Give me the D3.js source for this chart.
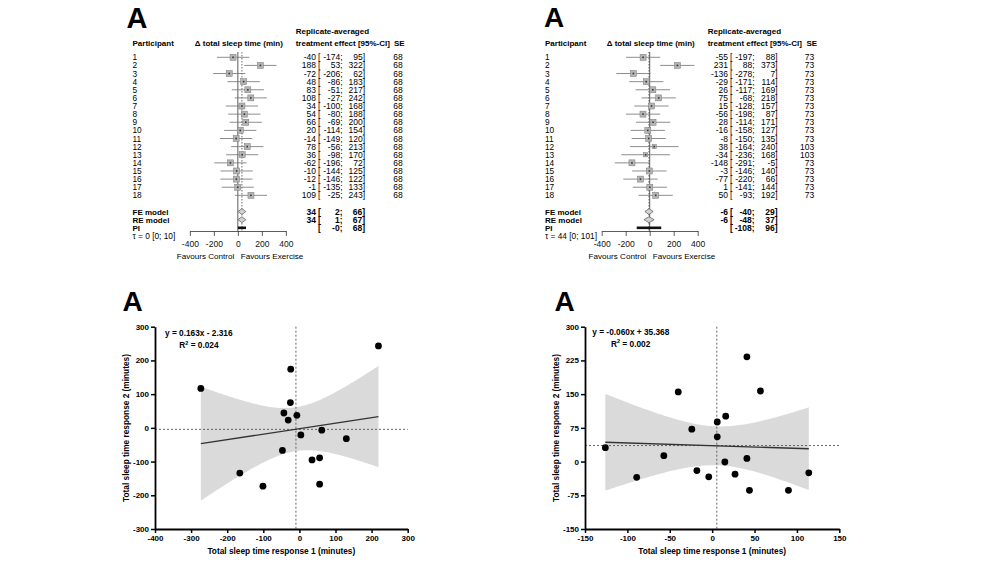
<!DOCTYPE html>
<html><head><meta charset="utf-8">
<script src="https://cdn.jsdelivr.net/npm/d3@7"></script>
<style>
body{margin:0;background:#fff}
svg{display:block;font-family:"Liberation Sans",Arial,Helvetica,sans-serif}
</style>
</head><body>
<svg id="c" width="1000" height="563"></svg>
<script>
// ---------------- DATA ----------------
const participants = ["1","2","3","4","5","6","7","8","9","10","11","12","13","14","15","16","17","18"];

// Left forest plot
const leftEst = [-40,188,-72,48,83,108,34,54,66,20,-14,78,36,-62,-10,-12,-1,109];
const leftLo  = [-174,53,-206,-86,-51,-27,-100,-80,-69,-114,-149,-56,-98,-196,-144,-146,-135,-25];
const leftHi  = [95,322,62,183,217,242,168,188,200,154,120,213,170,72,125,122,133,243];
const leftSE  = [68,68,68,68,68,68,68,68,68,68,68,68,68,68,68,68,68,68];
const leftModelEst = [34,34,null];
const leftModelLo  = [2,1,-0];
const leftModelHi  = [66,67,68];
const leftTau = "\u03C4 = 0 [0; 10]";

// Right forest plot
const rightEst = [-55,231,-136,-29,26,75,15,-56,28,-16,-8,38,-34,-148,-3,-77,1,50];
const rightLo  = [-197,88,-278,-171,-117,-68,-128,-198,-114,-158,-150,-164,-236,-291,-146,-220,-141,-93];
const rightHi  = [88,373,7,114,169,218,157,87,171,127,135,240,168,-5,140,66,144,192];
const rightSE  = [73,73,73,73,73,73,73,73,73,73,73,103,103,73,73,73,73,73];
const rightModelEst = [-6,-6,null];
const rightModelLo  = [-40,-48,-108];
const rightModelHi  = [29,37,96];
const rightTau = "\u03C4 = 44 [0; 101]";

const modelLabels = ["FE model","RE model","PI"];
const forestTicks = [-400,-200,0,200,400];

// Left scatter (response 1 vs response 2)
const leftX = [-273,-24,219,-25,-43,-7,-31,4,62,130,-47,35,56,-165,-101,56];
const leftY = [117,174,243,75,44,37,23,-21,-7,-32,-67,-95,-89,-134,-173,-167];
const leftFit = {slope:0.163, intercept:-2.316, t:2.145};
const leftEq = "y = 0.163x - 2.316", leftR2 = "0.024";
const leftXTicks = [-400,-300,-200,-100,0,100,200,300];
const leftYTicks = [-300,-200,-100,0,100,200,300];

// Right scatter
const rightX = [-40,41,57,16,6,-24,6,-126,-57,15,41,-18,-89,-4,27,114,44,90];
const rightY = [155,233,157,101,88,72,55,31,13,-1,7,-20,-35,-34,-28,-25,-64,-64];
const rightFit = {slope:-0.060, intercept:35.368, t:2.120};
const rightEq = "y = -0.060x + 35.368", rightR2 = "0.002";
const rightXTicks = [-150,-100,-50,0,50,100,150];
const rightYTicks = [-150,-75,0,75,150,225,300];

// ---------------- DRAW ----------------
const svg = d3.select("#c");
const fmt = v => (Object.is(v,-0) ? "-0" : String(v));

function panelLetter(x, y, size){
  svg.append("text").attr("x",x).attr("y",y).attr("font-size",size)
    .attr("font-weight","bold").attr("fill","#000").text("A");
}

function forest(o){
  const g = svg.append("g");
  const x = d3.scaleLinear().domain([-400,400]).range([o.x0-48, o.x0+48]);
  const y = d3.scaleLinear().domain([1,23]).range([57.3, 57.3+22*8.12]);
  const fs = 8, fv = 8.5;
  const hdr = (t,xx,yy,anchor)=>g.append("text").attr("x",xx).attr("y",yy)
      .attr("font-size",8).attr("font-weight","bold").attr("text-anchor",anchor||"start").text(t);
  hdr("Participant", o.px, 45.5);
  hdr("\u0394 total sleep time (min)", o.x0+1, 45.5, "middle");
  hdr("Replicate-averaged", o.tx, 33.5);
  hdr("treatment effect [95%-CI]", o.tx, 45.5);
  hdr("SE", o.seHdr, 45.5);

  g.append("line").attr("x1",x(0)).attr("x2",x(0)).attr("y1",52).attr("y2",231)
    .attr("stroke","#333").attr("stroke-width",0.8);
  g.append("line").attr("x1",x(o.mEst[0])).attr("x2",x(o.mEst[0])).attr("y1",52).attr("y2",231)
    .attr("stroke","#444").attr("stroke-width",0.8).attr("stroke-dasharray","1.5,1.5");

  const minSE = d3.min(o.se);
  const rows = participants.map((p,i)=>({p, i:i+1, est:o.est[i], lo:o.lo[i], hi:o.hi[i], se:o.se[i]}));
  rows.forEach(r=>{
    const cy = y(r.i);
    g.append("line").attr("x1",x(r.lo)).attr("x2",x(r.hi)).attr("y1",cy).attr("y2",cy)
      .attr("stroke","#707070").attr("stroke-width",0.8);
    const s = 6*minSE/r.se;
    g.append("rect").attr("x",x(r.est)-s/2).attr("y",cy-s/2).attr("width",s).attr("height",s)
      .attr("fill","#b4b4b4").attr("stroke","#7a7a7a").attr("stroke-width",0.5);
    g.append("rect").attr("x",x(r.est)-0.8).attr("y",cy-0.8).attr("width",1.6).attr("height",1.6)
      .attr("fill","#333");
    const b = cy+3;
    g.append("text").attr("x",o.px).attr("y",b).attr("font-size",fs+0.3).text(r.p);
    g.append("text").attr("x",o.cEst).attr("y",b).attr("font-size",fv).attr("text-anchor","end").text(fmt(r.est));
    g.append("text").attr("x",o.cBr).attr("y",b).attr("font-size",fv).text("[");
    g.append("text").attr("x",o.cLo).attr("y",b).attr("font-size",fv).attr("text-anchor","end").text(fmt(r.lo)+";");
    g.append("text").attr("x",o.cHi).attr("y",b).attr("font-size",fv).attr("text-anchor","end").text(fmt(r.hi)+"]");
    g.append("text").attr("x",o.cSE).attr("y",b).attr("font-size",fv).attr("text-anchor","end").text(r.se);
  });

  modelLabels.forEach((lab,k)=>{
    const cy = y(20+k), b = cy+3;
    if(o.mEst[k]!==null){
      const pts = [[x(o.mLo[k]),cy],[x(o.mEst[k]),cy-3],[x(o.mHi[k]),cy],[x(o.mEst[k]),cy+3]];
      g.append("path").attr("d","M"+pts.join("L")+"Z").attr("fill","#d2d2d2")
        .attr("stroke","#555").attr("stroke-width",0.7);
      g.append("text").attr("x",o.cEst).attr("y",b).attr("font-size",fv).attr("font-weight","bold")
        .attr("text-anchor","end").text(fmt(o.mEst[k]));
    } else {
      g.append("rect").attr("x",x(o.mLo[k])).attr("y",cy-1.3).attr("width",x(o.mHi[k])-x(o.mLo[k]))
        .attr("height",2.6).attr("fill","#111");
    }
    g.append("text").attr("x",o.px).attr("y",b).attr("font-size",fs).attr("font-weight","bold").text(lab);
    g.append("text").attr("x",o.cBr).attr("y",b).attr("font-size",fv).attr("font-weight","bold").text("[");
    g.append("text").attr("x",o.cLo).attr("y",b).attr("font-size",fv).attr("font-weight","bold")
      .attr("text-anchor","end").text(fmt(o.mLo[k])+";");
    g.append("text").attr("x",o.cHi).attr("y",b).attr("font-size",fv).attr("font-weight","bold")
      .attr("text-anchor","end").text(fmt(o.mHi[k])+"]");
  });
  g.append("text").attr("x",o.px).attr("y",y(23)+3.5).attr("font-size",fs+0.3).text(o.tau);

  const ax = g.append("g").attr("transform","translate(0,231)")
    .call(d3.axisBottom(x).tickValues(forestTicks).tickFormat(d=>String(d))
      .tickSize(5).tickSizeOuter(0).tickPadding(5));
  ax.select(".domain").attr("stroke","#333").attr("stroke-width",0.8);
  ax.selectAll(".tick line").attr("stroke","#333").attr("stroke-width",0.8);
  ax.selectAll(".tick text").attr("font-size",8.5).attr("fill","#111")
    .attr("font-family","Liberation Sans, Arial, sans-serif");
  g.append("text").attr("x",x(0)-3.5).attr("y",258.8).attr("font-size",8.1).attr("text-anchor","end").text("Favours Control");
  g.append("text").attr("x",x(0)+3).attr("y",258.8).attr("font-size",8.1).text("Favours Exercise");
}

forest({x0:237.85, px:132.5, tx:295.7, seHdr:394, cEst:316, cBr:318, cLo:342.5, cHi:365, cSE:402.7,
  est:leftEst, lo:leftLo, hi:leftHi, se:leftSE, mEst:leftModelEst, mLo:leftModelLo, mHi:leftModelHi, tau:leftTau});
forest({x0:649.7, px:545, tx:707.7, seHdr:806.5, cEst:728, cBr:730, cLo:754.5, cHi:777.5, cSE:814.3,
  est:rightEst, lo:rightLo, hi:rightHi, se:rightSE, mEst:rightModelEst, mLo:rightModelLo, mHi:rightModelHi, tau:rightTau});

function scatter(o){
  const g = svg.append("g");
  const x = d3.scaleLinear().domain(o.xd).range([o.x1, o.x2]);
  const y = d3.scaleLinear().domain(o.yd).range([529, 326.7]);
  const n = o.xs.length;
  const xbar = d3.mean(o.xs), ybar = d3.mean(o.ys);
  const Sxx = d3.sum(o.xs, v=>(v-xbar)*(v-xbar));
  const pred = v => o.fit.intercept + o.fit.slope*v;
  const sse = d3.sum(o.xs.map((v,i)=>(o.ys[i]-pred(v))**2));
  const s = Math.sqrt(sse/(n-2));
  const [xmin,xmax] = d3.extent(o.xs);
  const grid = d3.range(0,101).map(k=>xmin+(xmax-xmin)*k/100);
  const hw = v => o.fit.t*s*Math.sqrt(1/n + (v-xbar)*(v-xbar)/Sxx);
  const area = d3.area().x(v=>x(v)).y0(v=>y(pred(v)-hw(v))).y1(v=>y(pred(v)+hw(v)));
  g.append("path").attr("d",area(grid)).attr("fill","#dadada");

  g.append("line").attr("x1",x(xbar)).attr("x2",x(xbar)).attr("y1",y(o.yd[1])).attr("y2",y(o.yd[0]))
    .attr("stroke","#555").attr("stroke-width",0.9).attr("stroke-dasharray","2,2");
  g.append("line").attr("x1",x(o.xd[0])).attr("x2",x(o.xd[1])).attr("y1",y(ybar)).attr("y2",y(ybar))
    .attr("stroke","#555").attr("stroke-width",0.9).attr("stroke-dasharray","2,2");

  g.append("line").attr("x1",x(xmin)).attr("x2",x(xmax)).attr("y1",y(pred(xmin))).attr("y2",y(pred(xmax)))
    .attr("stroke","#333").attr("stroke-width",1.3);

  g.selectAll("circle.d").data(o.xs).join("circle").attr("class","d")
    .attr("cx",v=>x(v)).attr("cy",(v,i)=>y(o.ys[i])).attr("r",3.4).attr("fill","#000");

  const style = a=>{
    a.select(".domain").attr("stroke","#000").attr("stroke-width",1.8);
    a.selectAll(".tick line").attr("stroke","#000").attr("stroke-width",1.5);
    a.selectAll(".tick text").attr("font-size",8).attr("font-weight","bold").attr("fill","#000")
      .attr("font-family","Liberation Sans, Arial, sans-serif");
  };
  const ya = g.append("g").attr("transform",`translate(${o.x1},0)`)
    .call(d3.axisLeft(y).tickValues(o.yt).tickFormat(d=>String(d)).tickSize(4).tickSizeOuter(0).tickPadding(2));
  style(ya);
  const xa = g.append("g").attr("transform","translate(0,529)")
    .call(d3.axisBottom(x).tickValues(o.xt).tickFormat(d=>String(d)).tickSize(4).tickSizeOuter(0).tickPadding(2));
  style(xa);

  g.append("text").attr("transform",`translate(${o.ytx},428) rotate(-90)`).attr("text-anchor","middle")
    .attr("font-size",8.3).attr("font-weight","bold").attr("dy","0.35em").text("Total sleep time response 2 (minutes)");
  g.append("text").attr("x",(o.x1+o.x2)/2).attr("y",553.8).attr("text-anchor","middle")
    .attr("font-size",8.3).attr("font-weight","bold").text("Total sleep time response 1 (minutes)");

  g.append("text").attr("x",o.eqx).attr("y",o.eqy).attr("font-size",8.3).attr("font-weight","bold").text(o.eq);
  const r = g.append("text").attr("x",o.r2x).attr("y",o.eqy+12).attr("font-size",8.3).attr("font-weight","bold");
  r.append("tspan").text("R");
  r.append("tspan").attr("font-size",5.5).attr("dy",-3.5).text("2");
  r.append("tspan").attr("dy",3.5).text(" = "+o.r2);
}

scatter({xd:[-400,300], yd:[-300,300], x1:155, x2:407.7, xt:leftXTicks, yt:leftYTicks,
  xs:leftX, ys:leftY, fit:leftFit, eq:leftEq, r2:leftR2, eqx:165, eqy:336, r2x:179.3, ytx:126});
scatter({xd:[-150,150], yd:[-150,300], x1:585, x2:839.3, xt:rightXTicks, yt:rightYTicks,
  xs:rightX, ys:rightY, fit:rightFit, eq:rightEq, r2:rightR2, eqx:592.3, eqy:334.7, r2x:611, ytx:556});

panelLetter(126.5, 28.3, 29);
panelLetter(544, 27, 28);
panelLetter(122.5, 311, 28);
panelLetter(554.5, 311, 28);
</script>
</body></html>
